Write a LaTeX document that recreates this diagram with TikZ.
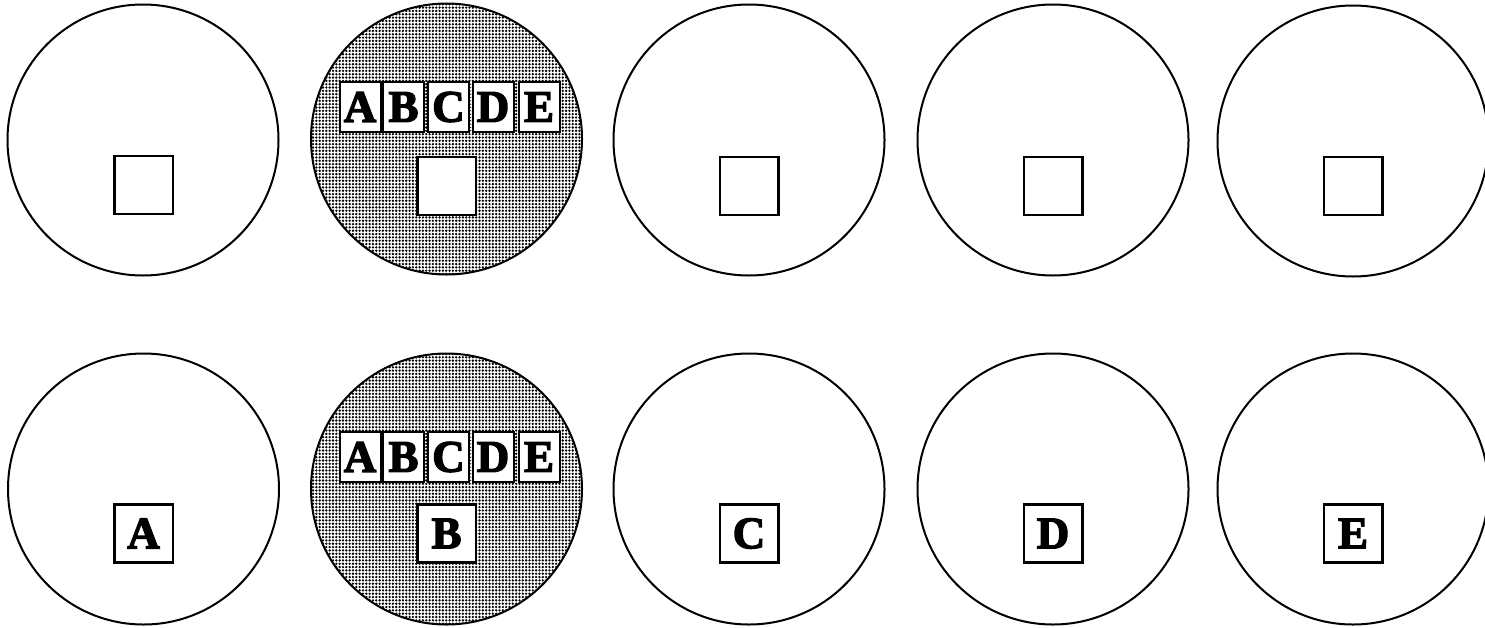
\documentclass[tikz,border=0pt]{standalone}
\usepackage{fontspec}
\newfontfamily\fatfont{Liberation Serif}[BoldFeatures={FakeBold=3}]
\usetikzlibrary{patterns.meta}
\tikzdeclarepattern{
  name=screendots,
  type=uncolored,
  bottom left={(-1.7pt,-1.7pt)},
  top right={(1.7pt,1.7pt)},
  tile size={(3.33pt,3.33pt)},
  code={\fill (0pt,0pt) circle (1.3pt);}
}
\tikzset{
  letterfont/.style={font=\fatfont\bfseries\fontsize{45}{45}\selectfont},
  disc/.style={circle, draw, line width=2pt, minimum size=271pt, inner sep=0pt},
  shadeddisc/.style={disc, pattern={screendots}, pattern color=black},
  slot/.style={draw, line width=2.5pt, minimum width=58.5pt, minimum height=58pt,
    inner sep=0pt, fill=white, letterfont},
  tag/.style={draw, line width=2pt, minimum width=41pt, minimum height=50pt,
    inner sep=0pt, fill=white, letterfont},
}
\begin{document}
\begin{tikzpicture}[x=1pt,y=-1pt]
\useasboundingbox (0,0) rectangle (1485,627);
\clip (0,0) rectangle (1485,627);
% top row
\node[disc]       (t1) at (143,140)   {};
\node[shadeddisc] (t2) at (446.5,139) {};
\node[disc]       (t3) at (749,140)   {};
\node[disc]       (t4) at (1053,140)  {};
\node[disc]       (t5) at (1353,141)  {};
\node[slot] (ts1) at (143.5,185) {};
\node[slot] (ts2) at (446.5,186) {};
\node[slot] (ts3) at (749,186)   {};
\node[slot] (ts4) at (1053,186)  {};
\node[slot] (ts5) at (1353,186)  {};
\node[tag] (ta) at (360,107)   {A};
\node[tag] (tb) at (403.5,107) {B};
\node[tag] (tc) at (448.5,107) {C};
\node[tag] (td) at (493,107)   {D};
\node[tag] (te) at (539,107)   {E};
% bottom row
\node[disc]       (b1) at (143.5,489) {};
\node[shadeddisc] (b2) at (446.5,489) {};
\node[disc]       (b3) at (749,489)   {};
\node[disc]       (b4) at (1053,489)  {};
\node[disc]       (b5) at (1353,489)  {};
\node[slot] (bs1) at (143.5,533.5) {A};
\node[slot] (bs2) at (446.5,533.5) {B};
\node[slot] (bs3) at (749,533.5)   {C};
\node[slot] (bs4) at (1053,533.5)  {D};
\node[slot] (bs5) at (1353,533.5)  {E};
\node[tag] (ba) at (360,457)   {A};
\node[tag] (bb) at (403.5,457) {B};
\node[tag] (bc) at (448.5,457) {C};
\node[tag] (bd) at (493,457)   {D};
\node[tag] (be) at (539,457)   {E};
\end{tikzpicture}
\end{document}
